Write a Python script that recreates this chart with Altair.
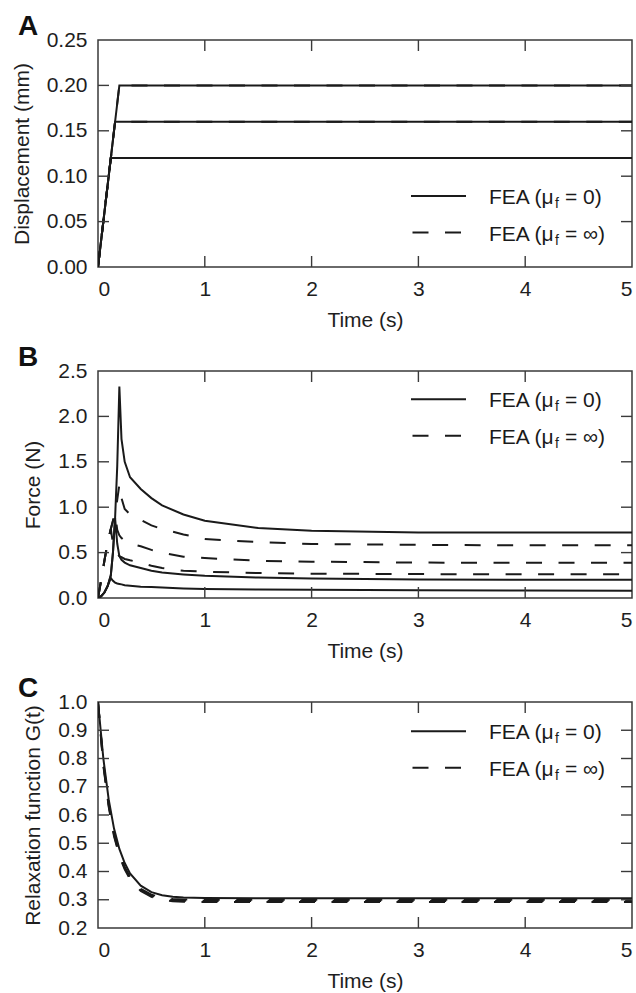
import altair as alt
import pandas as pd

FONT = "Liberation Sans"
INK = "#1a1a1a"
FRAME = "#3a3a3a"

# ---------------- data ----------------
X_TICKS = [0, 1, 2, 3, 4, 5]

# Panel A: displacement ramps (mm) reached at given times (s)
DISP_LEVELS = [0.12, 0.16, 0.20]
RAMP_END = [0.12, 0.16, 0.20]
T_END = 5.0
A_TICKS = [0.0, 0.05, 0.10, 0.15, 0.20, 0.25]

# Panel B: force (N)
T_B = [0, 0.03, 0.06, 0.09, 0.12, 0.14, 0.16, 0.18, 0.2, 0.22, 0.25, 0.3,
       0.4, 0.5, 0.6, 0.8, 1.0, 1.5, 2.0, 3.0, 4.0, 5.0]
F_SOLID_LOW = [0, 0.02, 0.06, 0.13, 0.22, 0.19, 0.17, 0.16, 0.155, 0.15, 0.14, 0.135,
               0.125, 0.12, 0.115, 0.105, 0.10, 0.093, 0.09, 0.085, 0.082, 0.08]
F_SOLID_MID = [0, 0.02, 0.06, 0.13, 0.25, 0.5, 0.88, 0.6, 0.46, 0.42, 0.39, 0.36,
               0.33, 0.30, 0.28, 0.26, 0.245, 0.225, 0.215, 0.205, 0.20, 0.20]
F_SOLID_HIGH = [0, 0.02, 0.06, 0.13, 0.25, 0.5, 0.88, 1.45, 2.33, 1.75, 1.5, 1.33,
                1.2, 1.1, 1.02, 0.92, 0.85, 0.77, 0.74, 0.72, 0.72, 0.72]
F_DASH_LOW = [0, 0.2, 0.41, 0.61, 0.76, 0.6, 0.53, 0.49, 0.46, 0.45, 0.43, 0.415,
              0.39, 0.355, 0.33, 0.30, 0.29, 0.275, 0.268, 0.263, 0.262, 0.262]
F_DASH_MID = [0, 0.2, 0.41, 0.61, 0.76, 0.85, 0.93, 0.75, 0.69, 0.66, 0.63, 0.60,
              0.57, 0.53, 0.50, 0.455, 0.44, 0.41, 0.40, 0.39, 0.387, 0.387]
F_DASH_HIGH = [0, 0.2, 0.41, 0.61, 0.76, 0.85, 0.93, 1.08, 1.25, 1.1, 0.98, 0.92,
               0.86, 0.80, 0.76, 0.70, 0.65, 0.615, 0.595, 0.585, 0.58, 0.58]
B_TICKS = [0.0, 0.5, 1.0, 1.5, 2.0, 2.5]

# Panel C: relaxation function G(t)
T_C = [0, 0.05, 0.1, 0.15, 0.2, 0.25, 0.3, 0.4, 0.5, 0.6, 0.7, 0.8, 1.0, 1.5,
       2.0, 3.0, 4.0, 5.0]
G_SOLID = [1.0, 0.80, 0.655, 0.552, 0.48, 0.43, 0.393, 0.35, 0.327, 0.316, 0.311,
           0.308, 0.306, 0.305, 0.305, 0.305, 0.305, 0.305]
G_DASH_1 = [1.0, 0.785, 0.64, 0.535, 0.465, 0.416, 0.381, 0.339, 0.318, 0.308, 0.303,
            0.301, 0.300, 0.300, 0.300, 0.300, 0.300, 0.300]
G_DASH_2 = [1.0, 0.78, 0.635, 0.53, 0.46, 0.412, 0.377, 0.335, 0.314, 0.304, 0.299,
            0.297, 0.296, 0.296, 0.296, 0.296, 0.296, 0.296]
G_DASH_3 = [1.0, 0.775, 0.63, 0.525, 0.455, 0.408, 0.373, 0.331, 0.310, 0.300, 0.295,
            0.293, 0.292, 0.292, 0.292, 0.292, 0.292, 0.292]
C_TICKS = [0.2, 0.3, 0.4, 0.5, 0.6, 0.7, 0.8, 0.9, 1.0]

LEGEND_LABELS = ["0", "\u221e"]

# ---------------- layout constants ----------------
W = 534
TICK = 11
DASH = [16, 16.5]
FS = 21
ONE = pd.DataFrame({"k": [0]})

# legend text pieces (left edges in plot pixels)
LEG_X0 = 391
LEG_SUB_X = LEG_X0 + 66      # after "FEA (μ"
LEG_REST_X = LEG_SUB_X + 10  # after subscript f and a space


def long_df(t, series):
    rows = []
    for name, vals in series.items():
        for ti, vi in zip(t, vals):
            rows.append({"t": ti, "v": vi, "curve": name})
    return pd.DataFrame(rows)


def panel(solid_df, dash_df, ydomain, yticks, yfmt, ytitle, letter, leg_y,
          height, anchor_top=False):
    xs = alt.Scale(domain=[0, 5], nice=False, zero=False)
    ys = alt.Scale(domain=ydomain, nice=False, zero=False)
    xaxis = alt.Axis(values=X_TICKS, format="d", title="Time (s)")
    yaxis = alt.Axis(values=yticks, format=yfmt, title=ytitle)
    X = alt.X("t:Q", scale=xs, axis=xaxis)
    Y = alt.Y("v:Q", scale=ys, axis=yaxis)

    dashed = alt.Chart(dash_df).mark_line(
        color=INK, strokeWidth=2, strokeDash=DASH, clip=True
    ).encode(x=X, y=Y, detail="curve:N")
    solid = alt.Chart(solid_df).mark_line(
        color=INK, strokeWidth=2, clip=True
    ).encode(x=X, y=Y, detail="curve:N")

    xt = pd.DataFrame({"t": X_TICKS[1:-1]})
    yt = pd.DataFrame({"v": yticks[1:-1]})
    tick_kw = dict(color=FRAME, strokeWidth=1.4)
    xb = alt.Chart(xt).mark_rule(**tick_kw).encode(
        x=X, y=alt.value(height), y2=alt.value(height - TICK))
    xtp = alt.Chart(xt).mark_rule(**tick_kw).encode(
        x=X, y=alt.value(0), y2=alt.value(TICK))
    yl = alt.Chart(yt).mark_rule(**tick_kw).encode(
        y=Y, x=alt.value(0), x2=alt.value(TICK))
    yr = alt.Chart(yt).mark_rule(**tick_kw).encode(
        y=Y, x=alt.value(W), x2=alt.value(W - TICK))

    # legend
    leg_solid = alt.Chart(ONE).mark_rule(color=INK, strokeWidth=2).encode(
        x=alt.value(313), x2=alt.value(368), y=alt.value(leg_y))
    leg_dash = alt.Chart(ONE).mark_rule(color=INK, strokeWidth=2,
                                        strokeDash=DASH).encode(
        x=alt.value(314.5), x2=alt.value(365), y=alt.value(leg_y + 36.5))
    texts = []
    for i, lab in enumerate(LEGEND_LABELS):
        base = leg_y + 8 + i * 36.5
        texts.append(alt.Chart(ONE).mark_text(
            text="FEA (\u03bc", font=FONT, fontSize=FS, color=INK,
            align="left", baseline="alphabetic").encode(
            x=alt.value(LEG_X0), y=alt.value(base)))
        texts.append(alt.Chart(ONE).mark_text(
            text="f", font=FONT, fontSize=14, color=INK,
            align="left", baseline="alphabetic").encode(
            x=alt.value(LEG_SUB_X), y=alt.value(base + 4)))
        texts.append(alt.Chart(ONE).mark_text(
            text="= " + lab + ")", font=FONT, fontSize=FS, color=INK,
            align="left", baseline="alphabetic").encode(
            x=alt.value(LEG_REST_X), y=alt.value(base)))

    letter_mark = alt.Chart(ONE).mark_text(
        text=letter, font=FONT, fontSize=28, fontWeight="bold", color="#111",
        align="left", baseline="alphabetic").encode(
        x=alt.value(-80), y=alt.value(-5.5))

    anchor = alt.Chart(ONE).mark_rule(opacity=0, strokeWidth=1).encode(
        x=alt.value(-96.5),
        y=alt.value(-38.5 if anchor_top else 10),
        y2=alt.value(-37 if anchor_top else 11))

    return alt.layer(dashed, solid, xb, xtp, yl, yr, leg_solid, leg_dash,
                     *texts, letter_mark, anchor).properties(width=W, height=height)


# Panel A frames
a_rows = []
for lvl, te in zip(DISP_LEVELS, RAMP_END):
    a_rows += [{"t": 0.0, "v": 0.0, "curve": str(lvl)},
               {"t": te, "v": lvl, "curve": str(lvl)},
               {"t": T_END, "v": lvl, "curve": str(lvl)}]
dfA = pd.DataFrame(a_rows)

dfB_s = long_df(T_B, {"low": F_SOLID_LOW, "mid": F_SOLID_MID, "high": F_SOLID_HIGH})
dfB_d = long_df(T_B, {"low": F_DASH_LOW, "mid": F_DASH_MID, "high": F_DASH_HIGH})
dfC_s = long_df(T_C, {"s": G_SOLID})
dfC_d = long_df(T_C, {"d1": G_DASH_1, "d2": G_DASH_2, "d3": G_DASH_3})

pA = panel(dfA, dfA, [0, 0.25], A_TICKS, ".2f", "Displacement (mm)", "A", 156, 227,
           anchor_top=True)
pB = panel(dfB_s, dfB_d, [0, 2.5], B_TICKS, ".1f", "Force (N)", "B", 28.3, 227)
pC = panel(dfC_s, dfC_d, [0.2, 1.0], C_TICKS, ".1f", "Relaxation function G(t)", "C",
           29.3, 226)

chart = alt.vconcat(pA, pB, pC, spacing=104, bounds="flush").properties(
    padding=0
).configure_view(
    stroke=FRAME, strokeWidth=1.5
).configure_axis(
    domain=False, ticks=False, tickSize=0, grid=False,
    labelFont=FONT, labelFontSize=FS, labelColor="#1e1e1e", labelPadding=11,
    titleFont=FONT, titleFontSize=FS, titleFontWeight="normal", titleColor="#1e1e1e",
).configure_axisX(
    labelPadding=11, titlePadding=10,
).configure_axisY(
    titlePadding=14,
)

chart.save("out.html", embed_options={"renderer": "svg", "actions": False})
